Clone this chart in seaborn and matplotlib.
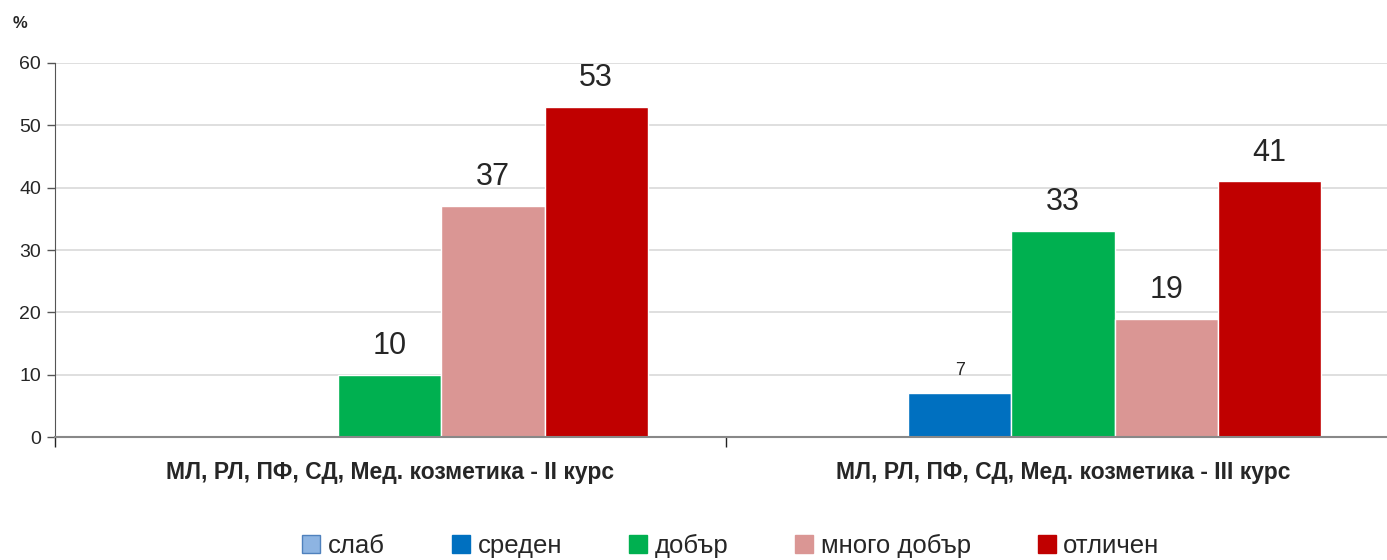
import pandas as pd
import matplotlib.pyplot as plt
import seaborn as sns

# Данни
groups = ['МЛ, РЛ, ПФ, СД, Мед. козметика - II курс',
          'МЛ, РЛ, ПФ, СД, Мед. козметика - III курс']
grades = ['слаб', 'среден', 'добър', 'много добър', 'отличен']
values_ii = [0, 0, 10, 37, 53]
values_iii = [0, 7, 33, 19, 41]
colors = ['#8DB4E2', '#0070C0', '#00B050', '#DA9694', '#C00000']

df = pd.DataFrame({
    'група': [groups[0]] * 5 + [groups[1]] * 5,
    'оценка': grades * 2,
    'процент': values_ii + values_iii,
})

sns.set_style('white')
plt.rcParams['font.family'] = ['Liberation Sans', 'DejaVu Sans']

fig = plt.figure(figsize=(13.87, 5.6), dpi=100)
ax = fig.add_axes([0.0397, 0.2196, 0.9603, 0.6679])

sns.barplot(data=df, x='група', y='процент', hue='оценка', order=groups,
            hue_order=grades, palette=colors, width=0.767, saturation=1,
            ax=ax, legend=True)

for cont in ax.containers:
    vals = cont.datavalues
    texts = ax.bar_label(cont, labels=[f'{v:g}' if v > 0 else '' for v in vals],
                         padding=10, fontsize=22)
    for t, v in zip(texts, vals):
        if 0 < v < 8:
            t.set_fontsize(13)

# рамка на "слаб"
for p in ax.containers[0]:
    p.set_edgecolor('#4F81BD')

ax.set_yticks(range(0, 61, 10))
ax.set_xticks([-0.4967, 0.5], minor=True)
ax.set_ylim(0, 60)
ax.set_xlim(-0.4967, 1.481)
ax.yaxis.grid(True, color='#D9D9D9', linewidth=1.2)
ax.set_axisbelow(True)

ax.tick_params(axis='x', which='minor', bottom=True, length=7, width=1,
               color='#222222', direction='out')
ax.tick_params(axis='x', which='major', bottom=True, length=0, pad=17, labelsize=16.5)
for lbl in ax.get_xticklabels():
    lbl.set_fontweight('bold')
ax.tick_params(axis='y', left=True, length=6, width=1, color='#555555',
               direction='out', labelsize=14, pad=4)
ax.set_xlabel('')
ax.set_ylabel('')

for s in ['top', 'right']:
    ax.spines[s].set_visible(False)
ax.spines['left'].set_color('#555555')
ax.spines['bottom'].set_color('#888888')
ax.spines['bottom'].set_linewidth(1.5)

fig.text(0.009, 0.958, '%', fontsize=12, fontweight='bold', ha='left', va='center')

ax.get_legend().remove()
handles = [plt.Rectangle((0, 0), 1, 1, facecolor=c, edgecolor='#4F81BD' if i == 0 else c)
           for i, c in enumerate(colors)]
fig.legend(handles, grades, loc='center', bbox_to_anchor=(0.527, 0.025), ncol=5,
           frameon=False, fontsize=18.5, handlelength=0.7, handleheight=0.7,
           handletextpad=0.3, columnspacing=2.6)

plt.savefig('out.png', dpi=100)
